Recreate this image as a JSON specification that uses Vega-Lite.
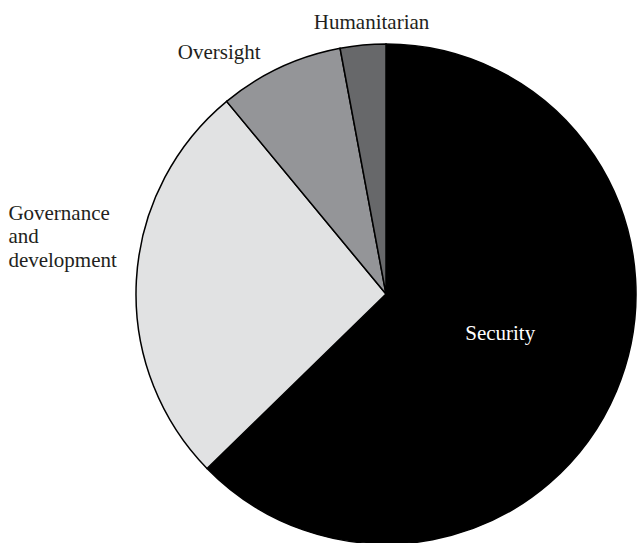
{
  "$schema": "https://vega.github.io/schema/vega-lite/v6.json",
  "width": 500,
  "height": 500,
  "autosize": {"type": "none"},
  "padding": {"left": 136, "top": 44, "right": 1, "bottom": 0},
  "background": "white",
  "config": {"view": {"stroke": null}},
  "data": {
    "values": [
      {"category": "Security", "label": "Security", "value": 62.7, "rank": 1},
      {"category": "Governance and development", "label": "Governance\nand\ndevelopment", "value": 26.3, "rank": 2},
      {"category": "Oversight", "label": "Oversight", "value": 8.06, "rank": 3},
      {"category": "Humanitarian", "label": "Humanitarian", "value": 2.94, "rank": 4}
    ]
  },
  "encoding": {
    "theta": {"field": "value", "type": "quantitative", "stack": true},
    "order": {"field": "rank", "type": "quantitative"}
  },
  "layer": [
    {
      "mark": {"type": "arc", "outerRadius": 250, "stroke": "#000000", "strokeWidth": 1.5},
      "encoding": {
        "color": {
          "field": "category",
          "type": "nominal",
          "scale": {
            "domain": ["Security", "Governance and development", "Oversight", "Humanitarian"],
            "range": ["#000000", "#e1e2e3", "#949598", "#67686a"]
          },
          "legend": null
        }
      }
    },
    {
      "mark": {"type": "text", "radius": 125, "dx": -1, "dy": -3, "align": "center", "baseline": "alphabetic", "font": "Liberation Serif", "fontSize": 21, "fill": "#ffffff"},
      "encoding": {
        "text": {"condition": {"test": "datum.category === 'Security'", "field": "label"}, "value": ""}
      }
    },
    {
      "mark": {"type": "text", "radius": 265, "dx": -113, "dy": -77, "align": "left", "baseline": "top", "lineBreak": "\n", "lineHeight": 23.5, "font": "Liberation Serif", "fontSize": 21, "fill": "#231f20"},
      "encoding": {
        "text": {"condition": {"test": "datum.category === 'Governance and development'", "field": "label"}, "value": ""}
      }
    },
    {
      "mark": {"type": "text", "radius": 265, "dx": -13, "dy": 5, "align": "right", "baseline": "alphabetic", "font": "Liberation Serif", "fontSize": 21, "fill": "#231f20"},
      "encoding": {
        "text": {"condition": {"test": "datum.category === 'Oversight'", "field": "label"}, "value": ""}
      }
    },
    {
      "mark": {"type": "text", "radius": 265, "dx": 10, "dy": -1, "align": "center", "baseline": "alphabetic", "font": "Liberation Serif", "fontSize": 21, "fill": "#231f20"},
      "encoding": {
        "text": {"condition": {"test": "datum.category === 'Humanitarian'", "field": "label"}, "value": ""}
      }
    }
  ]
}
